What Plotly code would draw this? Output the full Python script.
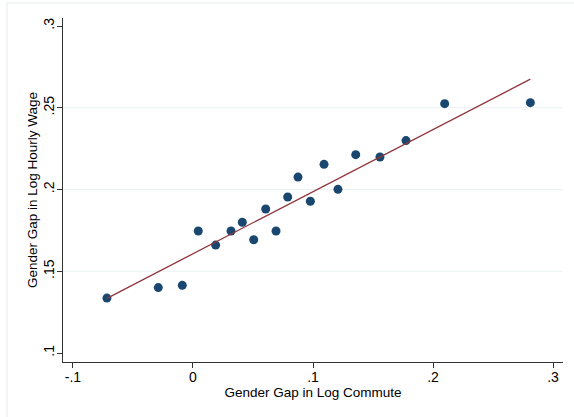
import plotly.graph_objects as go

# Binned scatter data (gender gap in log commute vs log hourly wage)
commute_gap = [-0.0717, -0.0289, -0.0089, 0.0044, 0.0189, 0.0317, 0.0411, 0.0506,
               0.0606, 0.0692, 0.0789, 0.0875, 0.0978, 0.1092, 0.1208, 0.1356,
               0.1558, 0.1775, 0.2097, 0.2811]
wage_gap = [0.1336, 0.1400, 0.1414, 0.1746, 0.1660, 0.1746, 0.1800, 0.1693,
            0.1881, 0.1746, 0.1954, 0.2076, 0.1928, 0.2154, 0.2001, 0.2213,
            0.2199, 0.2299, 0.2525, 0.2531]

fit_intercept = 0.1607
fit_slope = 0.380

x_ticks = [-0.1, 0, 0.1, 0.2, 0.3]
x_ticklabels = ["-.1", "0", ".1", ".2", ".3"]
y_ticks = [0.1, 0.15, 0.2, 0.25, 0.3]
y_ticklabels = [".1", ".15", ".2", ".25", ".3"]
grid_y = [0.15, 0.2, 0.25]

fit_x = [min(commute_gap), max(commute_gap)]
fit_y = [fit_intercept + fit_slope * v for v in fit_x]

FONT = "Liberation Sans, Arial, Helvetica, sans-serif"

fig = go.Figure()
fig.add_trace(go.Scatter(x=commute_gap, y=wage_gap, mode="markers",
                         marker=dict(color="#1a476f", size=9, line=dict(width=0)),
                         showlegend=False, hoverinfo="skip"))
fig.add_trace(go.Scatter(x=fit_x, y=fit_y, mode="lines",
                         line=dict(color="#90353b", width=1.3),
                         showlegend=False, hoverinfo="skip"))

shapes = []
for gy in grid_y:
    shapes.append(dict(type="line", xref="paper", yref="y", x0=0, x1=1, y0=gy, y1=gy,
                       line=dict(color="#eaf2f3", width=1), layer="below"))
# outer graph region border
shapes.append(dict(type="rect", xref="paper", yref="paper",
                   x0=(7 - 63) / 500, x1=(590 - 63) / 500,
                   y0=(362 - 430) / 344, y1=(362 - 3) / 344,
                   line=dict(color="#e4ecee", width=1), fillcolor="rgba(0,0,0,0)",
                   layer="below"))

fig.update_layout(
    width=574, height=417,
    margin=dict(l=63, r=11, t=18, b=55, autoexpand=False),
    paper_bgcolor="white", plot_bgcolor="white",
    font=dict(family=FONT, size=14, color="#000000"),
    shapes=shapes,
    xaxis=dict(range=[-0.1083, 0.3083], tickvals=x_ticks, ticktext=x_ticklabels,
               automargin=False,
               showgrid=False, zeroline=False, showline=True, linecolor="#333333",
               linewidth=1, ticks="outside", ticklen=5, tickcolor="#333333",
               tickfont=dict(size=14), ticklabelstandoff=-3,
               title=dict(text="Gender Gap in Log Commute", font=dict(size=13.5), standoff=0)),
    yaxis=dict(range=[0.0945, 0.3049], tickvals=y_ticks, ticktext=y_ticklabels,
               automargin=False,
               showgrid=False, zeroline=False, showline=True, linecolor="#333333",
               linewidth=1, ticks="outside", ticklen=5, tickcolor="#333333",
               tickangle=-90, tickfont=dict(size=14), ticklabelstandoff=-3,
               title=dict(text="Gender Gap in Log Hourly Wage", font=dict(size=13.5), standoff=0)),
)

fig.write_html("out.html", config={"displayModeBar": False},
               post_script="document.body.style.margin='0';document.body.style.overflow='hidden';")
